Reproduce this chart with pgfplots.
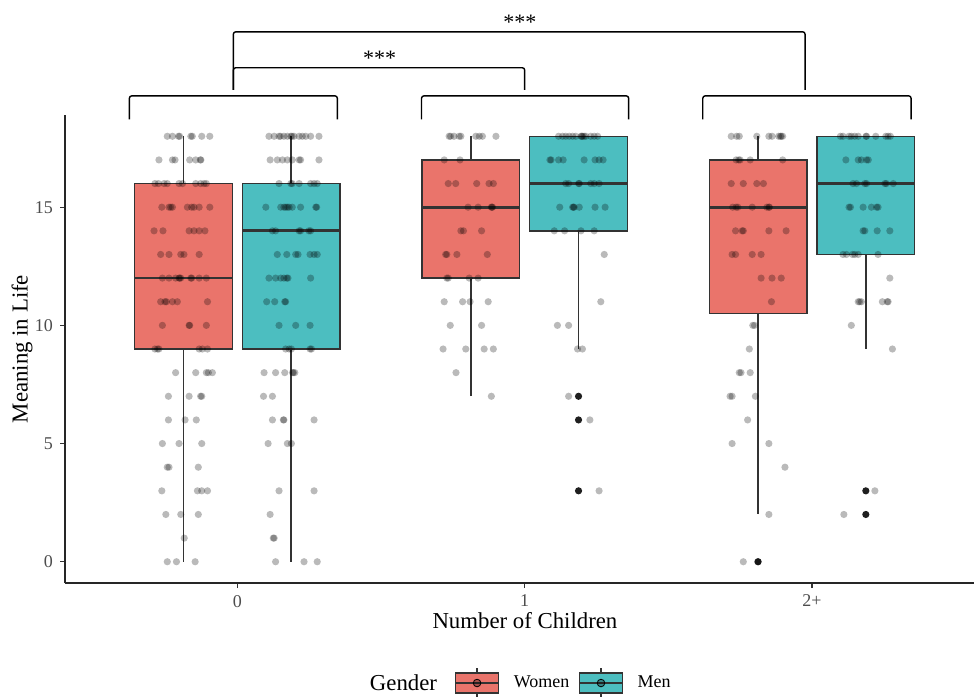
\documentclass[border=0pt]{standalone}
\usepackage{pgfplots}
\pgfplotsset{compat=1.18}
\usepgfplotslibrary{statistics}
\usepackage{fontspec}
\setmainfont{Liberation Serif}
\definecolor{womenc}{RGB}{234,116,107}
\definecolor{menc}{RGB}{76,190,192}
\definecolor{boxdraw}{RGB}{51,51,51}
\definecolor{tickc}{RGB}{77,77,77}
\pgfplotsset{
  jit/.style={only marks, mark=*, mark size=1.8pt, forget plot,
    mark options={draw opacity=0, fill=black, fill opacity=0.27}},
  outl/.style={only marks, mark=*, mark size=1.8pt, forget plot,
    mark options={draw opacity=0, fill=black!88}},
  bx/.style={forget plot, draw=boxdraw, line width=0.75pt,
    boxplot/draw direction=y,
    boxplot/every median/.style={line width=1.4pt},
    boxplot/every whisker/.style={line width=0.75pt}},
}
\begin{document}
\begin{tikzpicture}
\begin{axis}[
  at={(32.5pt,-291.5pt)}, anchor=south west,
  scale only axis, width=454.5pt, height=234pt,
  xmin=-0.6, xmax=2.564, ymin=-0.9, ymax=18.9,
  axis x line*=bottom, axis y line*=left,
  axis line style={-, line width=0.7pt, color=black!85},
  xtick={0,1,2}, xticklabels={0,1,2+},
  ytick={0,5,10,15},
  tick align=outside, major tick length=2.5pt,
  tick style={line width=0.6pt, color=black!80},
  ticklabel style={font=\fontsize{9}{10}\selectfont, text=tickc},
  /pgf/number format/assume math mode=true,
  xlabel={Number of Children}, ylabel={Meaning in Life},
  label style={font=\fontsize{11.4}{13}\selectfont},
  xlabel style={at={(axis description cs:0.506,-0.0812)}, anchor=center},
  ylabel style={at={(axis description cs:-0.0473,0.5)}, anchor=center},
  clip=false,
  legend style={at={(axis description cs:0.4279,-0.2137)}, anchor=west,
    draw=none, fill=none, inner sep=0pt, font=\fontsize{9}{10}\selectfont,
    /tikz/every odd column/.append style={column sep=5pt},
    /tikz/every even column/.append style={column sep=2.5pt}},
  legend columns=2, legend cell align=left,
]
% boxes
\addplot[bx, fill=womenc, boxplot prepared={draw position=-0.1875, lower whisker=0, lower quartile=9, median=12, upper quartile=16, upper whisker=18, box extend=0.34, whisker extend=0}] coordinates {};
\addplot[bx, fill=menc, boxplot prepared={draw position=0.1875, lower whisker=0, lower quartile=9, median=14, upper quartile=16, upper whisker=18, box extend=0.34, whisker extend=0}] coordinates {};
\addplot[bx, fill=womenc, boxplot prepared={draw position=0.8125, lower whisker=7, lower quartile=12, median=15, upper quartile=17, upper whisker=18, box extend=0.34, whisker extend=0}] coordinates {};
\addplot[bx, fill=menc, boxplot prepared={draw position=1.1875, lower whisker=9, lower quartile=14, median=16, upper quartile=18, upper whisker=18, box extend=0.34, whisker extend=0}] coordinates {};
\addplot[bx, fill=womenc, boxplot prepared={draw position=1.8125, lower whisker=2, lower quartile=10.5, median=15, upper quartile=17, upper whisker=18, box extend=0.34, whisker extend=0}] coordinates {};
\addplot[bx, fill=menc, boxplot prepared={draw position=2.1875, lower whisker=9, lower quartile=13, median=16, upper quartile=18, upper whisker=18, box extend=0.34, whisker extend=0}] coordinates {};
% outliers
\addplot[outl] coordinates {(1.1875,7) (1.1875,6) (1.1875,3) (1.8125,0) (2.1875,3) (2.1875,2)};
% women, 0 children
\addplot[jit] coordinates {
(-0.244,18) (-0.226,18) (-0.205,18) (-0.201,18) (-0.162,18) (-0.157,18) (-0.124,18) (-0.096,18)
(-0.273,17) (-0.226,17) (-0.217,17) (-0.166,17) (-0.145,17) (-0.129,17) (-0.127,17)
(-0.287,16) (-0.275,16) (-0.255,16) (-0.244,16) (-0.203,16) (-0.191,16) (-0.145,16) (-0.128,16) (-0.116,16) (-0.108,16)
(-0.263,15) (-0.238,15) (-0.232,15) (-0.226,15) (-0.174,15) (-0.159,15) (-0.151,15) (-0.133,15) (-0.096,15)
(-0.290,14) (-0.259,14) (-0.168,14) (-0.151,14) (-0.133,14) (-0.113,14)
(-0.267,13) (-0.238,13) (-0.197,13) (-0.186,13) (-0.133,13)
(-0.261,12) (-0.238,12) (-0.215,12) (-0.203,12) (-0.201,12) (-0.197,12) (-0.162,12) (-0.159,12) (-0.133,12) (-0.108,12)
(-0.267,11) (-0.252,11) (-0.247,11) (-0.226,11) (-0.209,11) (-0.104,11)
(-0.261,10) (-0.168,10) (-0.166,10) (-0.108,10)
(-0.287,9) (-0.278,9) (-0.273,9) (-0.133,9) (-0.122,9) (-0.104,9)
(-0.215,8) (-0.145,8) (-0.108,8) (-0.101,8) (-0.087,8)
(-0.240,7) (-0.168,7) (-0.128,7) (-0.124,7)
(-0.240,6) (-0.182,6) (-0.143,6)
(-0.261,5) (-0.203,5) (-0.124,5)
(-0.244,4) (-0.238,4) (-0.136,4)
(-0.263,3) (-0.139,3) (-0.124,3) (-0.104,3)
(-0.249,2) (-0.197,2) (-0.136,2)
(-0.185,1)
(-0.244,0) (-0.212,0) (-0.147,0)
};
% men, 0 children
\addplot[jit] coordinates {
(0.110,18) (0.128,18) (0.145,18) (0.150,18) (0.162,18) (0.174,18) (0.186,18) (0.190,18) (0.197,18) (0.215,18) (0.226,18) (0.238,18) (0.255,18) (0.284,18)
(0.114,17) (0.139,17) (0.157,17) (0.174,17) (0.191,17) (0.215,17) (0.220,17) (0.284,17)
(0.145,16) (0.186,16) (0.191,16) (0.215,16) (0.255,16) (0.267,16) (0.278,16)
(0.099,15) (0.151,15) (0.162,15) (0.168,15) (0.174,15) (0.180,15) (0.191,15) (0.220,15) (0.273,15) (0.276,15)
(0.122,14) (0.133,14) (0.215,14) (0.220,14) (0.249,14) (0.255,14)
(0.139,13) (0.172,13) (0.203,13) (0.211,13) (0.253,13) (0.267,13) (0.278,13)
(0.110,12) (0.133,12) (0.151,12) (0.162,12) (0.172,12) (0.176,12) (0.255,12)
(0.102,11) (0.130,11) (0.165,11) (0.168,11)
(0.145,10) (0.203,10) (0.253,10)
(0.168,9) (0.180,9) (0.188,9) (0.253,9) (0.258,9)
(0.093,8) (0.133,8) (0.165,8) (0.192,8) (0.195,8) (0.200,8)
(0.091,7) (0.122,7)
(0.122,6) (0.160,6) (0.162,6) (0.267,6)
(0.107,5) (0.174,5) (0.188,5)
(0.145,3) (0.267,3)
(0.114,2)
(0.125,1) (0.128,1)
(0.133,0) (0.232,0) (0.278,0)
};
% women, 1 child
\addplot[jit] coordinates {
(0.737,18) (0.742,18) (0.754,18) (0.772,18) (0.778,18) (0.830,18) (0.842,18) (0.853,18) (0.900,18)
(0.720,17) (0.775,17)
(0.734,16) (0.760,16) (0.833,16) (0.876,16) (0.891,16)
(0.803,15) (0.838,15) (0.884,15) (0.886,15) (0.888,15)
(0.778,14) (0.787,14) (0.850,14)
(0.725,13) (0.729,13) (0.764,13) (0.870,13)
(0.729,12) (0.734,12) (0.807,12) (0.838,12)
(0.720,11) (0.784,11) (0.810,11) (0.873,11)
(0.741,10) (0.850,10)
(0.716,9) (0.795,9) (0.859,9) (0.891,9)
(0.761,8)
(0.884,7)
};
% men, 1 child
\addplot[jit] coordinates {
(1.118,18) (1.132,18) (1.143,18) (1.155,18) (1.167,18) (1.178,18) (1.196,18) (1.199,18) (1.201,18) (1.207,18) (1.213,18) (1.230,18) (1.242,18) (1.254,18)
(1.088,17) (1.092,17) (1.118,17) (1.134,17) (1.207,17) (1.245,17) (1.259,17) (1.273,17)
(1.143,16) (1.153,16) (1.188,16) (1.190,16) (1.230,16) (1.242,16) (1.259,16)
(1.122,15) (1.167,15) (1.170,15) (1.172,15) (1.190,15) (1.245,15) (1.280,15)
(1.103,14) (1.139,14) (1.196,14) (1.242,14)
(1.277,13)
(1.265,11)
(1.114,10) (1.153,10)
(1.184,9) (1.201,9)
(1.153,7)
(1.227,6)
(1.259,3)
};
% women, 2+ children
\addplot[jit] coordinates {
(1.719,18) (1.738,18) (1.747,18) (1.808,18) (1.850,18) (1.861,18) (1.884,18) (1.890,18) (1.893,18) (1.898,18)
(1.736,17) (1.745,17) (1.750,17) (1.785,17) (1.898,17)
(1.719,16) (1.761,16) (1.808,16) (1.831,16)
(1.724,15) (1.736,15) (1.742,15) (1.792,15) (1.843,15) (1.850,15) (1.852,15)
(1.734,14) (1.757,14) (1.761,14) (1.850,14) (1.910,14)
(1.722,13) (1.734,13) (1.792,13) (1.823,13)
(1.823,12) (1.861,12) (1.893,12)
(1.859,11)
(1.794,10) (1.800,10)
(1.782,9)
(1.747,8) (1.753,8) (1.785,8)
(1.715,7) (1.722,7) (1.803,7)
(1.776,6)
(1.722,5) (1.850,5)
(1.906,4)
(1.850,2)
(1.761,0) (1.811,0)
};
% men, 2+ children
\addplot[jit] coordinates {
(2.099,18) (2.108,18) (2.129,18) (2.137,18) (2.149,18) (2.161,18) (2.188,18) (2.190,18) (2.222,18) (2.257,18) (2.265,18) (2.273,18)
(2.118,17) (2.161,17) (2.172,17) (2.190,17) (2.196,17)
(2.143,16) (2.155,16) (2.184,16) (2.190,16) (2.254,16) (2.259,16) (2.283,16)
(2.129,15) (2.134,15) (2.178,15) (2.207,15) (2.225,15) (2.230,15)
(2.178,14) (2.184,14) (2.227,14) (2.271,14)
(2.108,13) (2.120,13) (2.141,13) (2.149,13) (2.161,13) (2.230,13)
(2.271,12)
(2.161,11) (2.166,11) (2.172,11) (2.245,11) (2.262,11) (2.265,11)
(2.137,10)
(2.280,9)
(2.219,3)
(2.111,2)
};
% legend
\addlegendimage{legend image code/.code={
  \fill[womenc] (0pt,-5pt) rectangle (21.5pt,5pt);
  \draw[boxdraw,line width=0.7pt] (0pt,-5pt) rectangle (21.5pt,5pt);
  \draw[boxdraw,line width=1.2pt] (0pt,0pt) -- (21.5pt,0pt);
  \draw[boxdraw,line width=0.7pt] (10.75pt,5pt) -- (10.75pt,7.5pt) (10.75pt,-5pt) -- (10.75pt,-7.5pt);
  \fill[black,fill opacity=0.3] (10.75pt,0pt) circle (1.9pt);}}
\addlegendentry{Women}
\addlegendimage{legend image code/.code={
  \fill[menc] (0pt,-5pt) rectangle (21.5pt,5pt);
  \draw[boxdraw,line width=0.7pt] (0pt,-5pt) rectangle (21.5pt,5pt);
  \draw[boxdraw,line width=1.2pt] (0pt,0pt) -- (21.5pt,0pt);
  \draw[boxdraw,line width=0.7pt] (10.75pt,5pt) -- (10.75pt,7.5pt) (10.75pt,-5pt) -- (10.75pt,-7.5pt);
  \fill[black,fill opacity=0.3] (10.75pt,0pt) circle (1.9pt);}}
\addlegendentry{Men}
\node[font=\fontsize{11.4}{13}\selectfont, anchor=center] at (axis description cs:0.3724,-0.2137) {Gender};
% significance brackets
\begin{scope}[line width=0.7pt, rounded corners=1.2pt]
\draw (axis cs:-0.376,18.71) -- (axis cs:-0.376,19.71) -- (axis cs:0.348,19.71) -- (axis cs:0.348,18.71);
\draw (axis cs:0.641,18.71) -- (axis cs:0.641,19.71) -- (axis cs:1.362,19.71) -- (axis cs:1.362,18.71);
\draw (axis cs:1.620,18.71) -- (axis cs:1.620,19.71) -- (axis cs:2.345,19.71) -- (axis cs:2.345,18.71);
\draw (axis cs:-0.014,19.96) -- (axis cs:-0.014,20.90) -- (axis cs:1.000,20.90) -- (axis cs:1.000,19.96);
\draw (axis cs:-0.014,19.96) -- (axis cs:-0.014,22.42) -- (axis cs:1.976,22.42) -- (axis cs:1.976,19.96);
\end{scope}
\node[anchor=base, font=\fontsize{11}{12}\selectfont, inner sep=0pt] at (axis cs:0.495,20.98) {***};
\node[anchor=base, font=\fontsize{11}{12}\selectfont, inner sep=0pt] at (axis cs:0.983,22.50) {***};
\end{axis}
\pgfresetboundingbox
\path (0pt,0pt) rectangle (487pt,-348pt);
\end{tikzpicture}
\end{document}
